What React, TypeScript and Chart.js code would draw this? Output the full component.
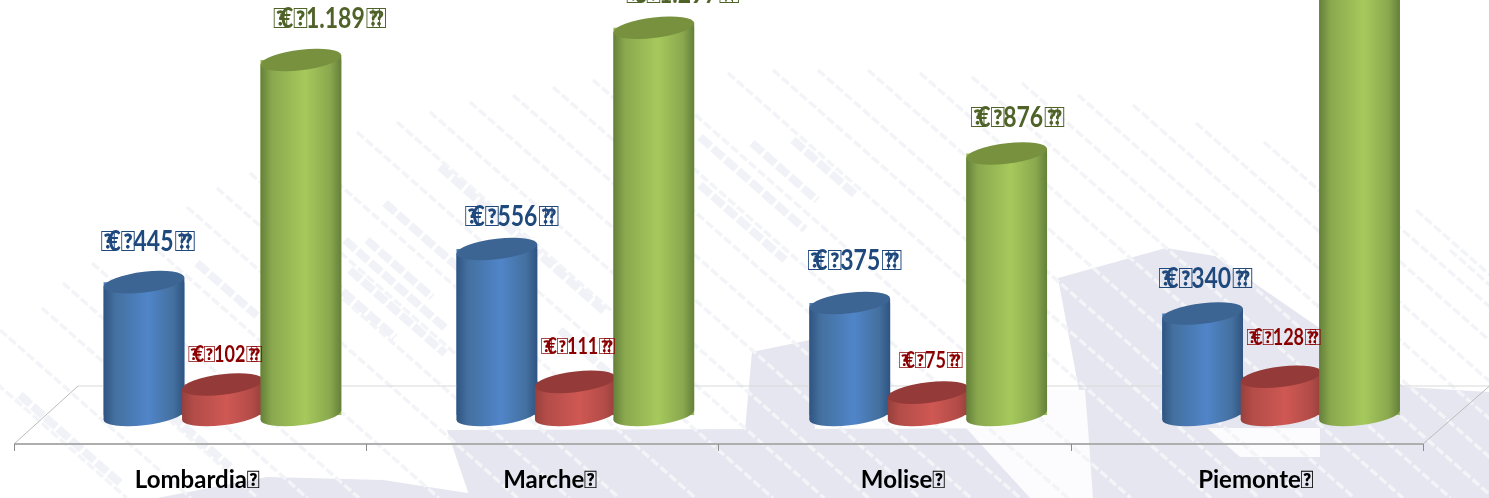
import React, { useEffect, useRef } from "react";
import { Chart, registerables } from "chart.js";

Chart.register(...registerables);

const categories = ["Lombardia", "Marche", "Molise", "Piemonte"];
const blueValues = [445, 556, 375, 340];
const redValues = [102, 111, 75, 128];
const greenValues = [1189, 1297, 876, 1560];

const TOFU = "\uE000";
const amount = (v: number) =>
  v >= 1000 ? `${Math.floor(v / 1000)}.${String(v % 1000).padStart(3, "0")}` : String(v);

// label placement relative to the top of each cylinder
const labelDx = [[4, 15, 5, 3], [3, 3, 3, 3], [29, 29, 11, 0]];
const labelDy = [[-40, -32, -42, -35], [-30, -35, -32, -39], [-41, -34, -35, -40]];

const seriesStyle = [
  { edge: "#2f5481", mid: "#44709f", light: "#5085c9", cap: "#3c6594", text: "#1f497d", font: 28 },
  { edge: "#97403c", mid: "#b34c48", light: "#cf5853", cap: "#943a38", text: "#8a0000", font: 22 },
  { edge: "#64803a", mid: "#8aa84e", light: "#a6c95c", cap: "#78913f", text: "#4f6228", font: 28 },
];

const LAV = "#e5e6ef";
const lavenderShapes: number[][][] = [
  [[1058, 278], [1166, 248], [1215, 256], [1405, 387], [1489, 392], [1489, 498], [1093, 498], [1087, 433]],
  [[752, 352], [810, 340], [815, 430], [745, 430]],
  [[447, 430], [1100, 428], [1093, 498], [470, 498]],
  [[157, 498], [267, 477], [383, 480], [500, 498]],
];
const whiteShapes: number[][][] = [
  [[966, 428], [1088, 428], [1093, 498], [1030, 498]],
  [[1207, 428], [1320, 428], [1320, 457], [1240, 457]],
  [[1000, 390], [1085, 390], [1088, 428], [1000, 428]],
  [[1060, 460], [1093, 498], [1060, 498]],
];
const thinStarts = [
  [-30, 360], [0, 330], [42, 308], [63, 283], [92, 263], [140, 235], [187, 207], [217, 188], [250, 173],
  [300, 150], [357, 132], [397, 122], [430, 112], [470, 102], [513, 95], [553, 87], [593, 80], [650, 75],
  [728, 73], [773, 70], [818, 70], [868, 70], [920, 73], [972, 77], [1022, 83], [1078, 95], [1133, 105],
  [1196, 123], [1264, 142], [1340, 175], [1416, 210], [1450, 250],
];
// start x, start y, horizontal run of the soft wide streaks
const wideStreaks = [
  [440, 167, 165], [385, 203, 75], [345, 240, 100], [330, 280, 65], [700, 137, 105],
  [752, 143, 65], [700, 185, 85], [793, 140, 62], [197, 263, 60], [367, 240, 65],
  [350, 270, 95], [20, 395, 100], [120, 370, 110], [560, 330, 75],
];

const poly = (ctx: CanvasRenderingContext2D, pts: number[][]) => {
  ctx.beginPath();
  pts.forEach(([x, y], i) => (i ? ctx.lineTo(x, y) : ctx.moveTo(x, y)));
  ctx.closePath();
  ctx.fill();
};

const watermark = {
  id: "watermark",
  beforeDraw(chart: any) {
    const { ctx, width, height } = chart;
    ctx.save();
    ctx.fillStyle = "#ffffff";
    ctx.fillRect(0, 0, width, height);
    ctx.fillStyle = LAV;
    lavenderShapes.forEach((p) => poly(ctx, p));
    ctx.fillStyle = "#fcfcfe";
    whiteShapes.forEach((p) => poly(ctx, p));
    ctx.lineCap = "butt";
    ctx.setLineDash([9, 3]);
    ctx.lineWidth = 3.5;
    ctx.strokeStyle = "#f3f4f8";
    thinStarts.forEach(([x, y]) => {
      ctx.beginPath();
      ctx.moveTo(x, y);
      ctx.lineTo(x + (498 - y) / 0.88, 498);
      ctx.stroke();
    });
    ctx.setLineDash([14, 3]);
    ctx.lineWidth = 8;
    ctx.strokeStyle = "#f1f2f7";
    wideStreaks.forEach(([x, y, run]) => {
      ctx.beginPath();
      ctx.moveTo(x, y);
      ctx.lineTo(x + run, y + run * 0.88);
      ctx.stroke();
    });
    ctx.restore();
  },
};

const cylinders = {
  id: "cylinders",
  afterDatasetsDraw(chart: any) {
    const { ctx, chartArea } = chart;
    const step = (chartArea.right - chartArea.left) / categories.length;
    const shear = 32;
    const depth = 29;
    const floorY = chartArea.bottom;
    const frontStep = step * 0.9982;
    ctx.save();
    const frontL = chartArea.left - shear;
    const frontR = frontL + frontStep * categories.length;
    ctx.strokeStyle = "#d9d9d9";
    ctx.lineWidth = 1;
    ctx.beginPath();
    ctx.moveTo(chartArea.left + shear, floorY - depth);
    ctx.lineTo(chartArea.right + shear, floorY - depth);
    ctx.stroke();
    ctx.strokeStyle = "#bcbcbc";
    ctx.beginPath();
    ctx.moveTo(frontL, floorY + depth);
    ctx.lineTo(chartArea.left + shear, floorY - depth);
    ctx.moveTo(frontR, floorY + depth);
    ctx.lineTo(chartArea.right + shear, floorY - depth);
    ctx.stroke();
    ctx.strokeStyle = "#aeaeae";
    ctx.lineWidth = 2;
    ctx.beginPath();
    ctx.moveTo(frontL, floorY + depth);
    ctx.lineTo(frontR, floorY + depth);
    ctx.stroke();
    ctx.strokeStyle = "#8c8c8c";
    ctx.lineWidth = 1;
    for (let i = 0; i <= categories.length; i++) {
      const x = Math.round(frontL + i * frontStep) + 0.5;
      ctx.beginPath();
      ctx.moveTo(x, floorY + depth);
      ctx.lineTo(x, floorY + depth + 7);
      ctx.stroke();
    }
    // cylinders: sheared ellipses, so sides meet the caps at their ends
    const k = 0.115;
    const shearedEllipse = (x: number, y: number, a: number, b: number) => {
      ctx.save();
      ctx.transform(1, -k, 0, 1, x, y);
      ctx.beginPath();
      ctx.ellipse(0, 0, a, b, 0, 0, Math.PI * 2);
      ctx.restore();
      ctx.fill();
    };
    chart.data.datasets.forEach((_: any, di: number) => {
      const st = seriesStyle[di];
      chart.getDatasetMeta(di).data.forEach((el: any) => {
        const { x, y, base, width } = el.getProps(["x", "y", "base", "width"], true);
        const a = width / 2;
        const b = 10.3;
        const dy = a * k;
        const g = ctx.createLinearGradient(x - a, 0, x + a, 0);
        g.addColorStop(0, st.edge);
        g.addColorStop(0.14, st.mid);
        g.addColorStop(0.55, st.light);
        g.addColorStop(0.86, st.mid);
        g.addColorStop(1, st.edge);
        ctx.fillStyle = g;
        shearedEllipse(x, base, a, b);
        ctx.beginPath();
        ctx.moveTo(x - a, y + dy);
        ctx.lineTo(x + a, y - dy);
        ctx.lineTo(x + a, base - dy);
        ctx.lineTo(x - a, base + dy);
        ctx.closePath();
        ctx.fill();
        ctx.fillStyle = st.cap;
        shearedEllipse(x, y, a, b);
      });
    });
    // value labels: digits with the boxes of the source's missing glyphs
    ctx.textBaseline = "middle";
    ctx.textAlign = "left";
    chart.data.datasets.forEach((ds: any, di: number) => {
      const st = seriesStyle[di];
      const u = st.font / 28;
      const sx = 0.82;
      ctx.font = `bold ${st.font}px Lato, "Noto Sans", sans-serif`;
      ctx.fillStyle = st.text;
      const put = (text: string, px: number, py: number, scale: number) => {
        ctx.save();
        ctx.translate(px, py);
        ctx.scale(scale, 1);
        ctx.fillText(text, 0, 0);
        ctx.restore();
      };
      chart.getDatasetMeta(di).data.forEach((el: any, i: number) => {
        const digits = amount(ds.data[i]);
        const w = ctx.measureText(digits).width * sx;
        const total = 55 * u + w;
        const left = el.x + labelDx[di][i] - total / 2;
        const py = el.y + labelDy[di][i];
        const box = 0.95;
        put(TOFU, left, py, box);
        put("€", left + 7 * u, py, sx);
        put(TOFU, left + 20 * u, py, box);
        put(digits, left + 33 * u, py, sx);
        put(TOFU, left + 33 * u + w + 1 * u, py, box);
        put(TOFU, left + 33 * u + w + 7 * u, py, box);
      });
    });
    ctx.restore();
  },
};

export default function App() {
  const ref = useRef<HTMLCanvasElement>(null);
  useEffect(() => {
    const chart = new Chart(ref.current!, {
      type: "bar",
      data: {
        labels: categories.map((c) => c + TOFU),
        datasets: [
          { label: "Blu", data: blueValues, backgroundColor: "#4f81bd" },
          { label: "Rosso", data: redValues, backgroundColor: "#c0504d" },
          { label: "Verde", data: greenValues, backgroundColor: "#9bbb59" },
        ],
      },
      options: {
        animation: false,
        responsive: false,
        layout: { padding: { left: 46, right: 31.5, top: 0, bottom: 0 } },
        plugins: { legend: { display: false }, tooltip: { enabled: false } },
        datasets: { bar: { categoryPercentage: 0.667, barPercentage: 1.03 } },
        scales: {
          x: {
            grid: { display: false, drawTicks: false },
            border: { display: false },
            afterFit: (s: any) => {
              s.height = 83;
            },
            ticks: {
              color: "#000000",
              font: { family: "Lato, sans-serif", size: 24, weight: "bold" },
              padding: 51,
              labelOffset: -25,
              maxRotation: 0,
              autoSkip: false,
            },
          },
          y: { display: false, min: 0, max: 1390 },
        },
      } as any,
      plugins: [watermark, cylinders],
    });
    return () => chart.destroy();
  }, []);
  return (
    <div style={{ position: "fixed", left: 0, top: 0, width: 1489, height: 498 }}>
      <canvas ref={ref} width={1489} height={498} style={{ display: "block" }} />
    </div>
  );
}
